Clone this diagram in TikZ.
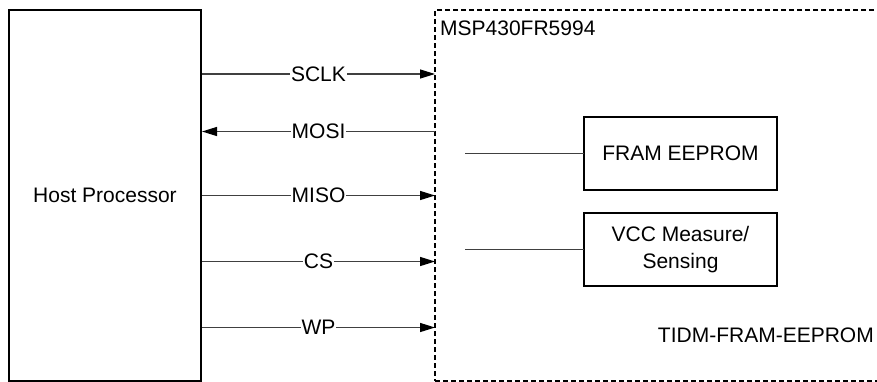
\documentclass[tikz,border=0pt]{standalone}
\usepackage{fontspec}
\setmainfont{Liberation Sans}
\usetikzlibrary{arrows.meta}
\begin{document}
\begin{tikzpicture}[x=1pt,y=-1pt,
  every node/.style={font=\fontsize{21}{27}\selectfont},
  box/.style={draw=black,line width=2.2pt,inner sep=0pt,outer sep=0pt},
  msp/.style={draw=black,line width=2.3pt,dash pattern=on 5pt off 3pt,inner sep=0pt,outer sep=0pt},
  wire/.style={draw=black!75,line width=1.3pt},
  arr/.style={-{Triangle[length=15pt,width=9pt,color=black]}},
  sig/.style={fill=white,inner sep=1pt,text=black}]
\useasboundingbox (0,0) rectangle (877,381);
\clip (0,0) rectangle (877,381);
% main blocks
\node[box,minimum width=192pt,minimum height=371pt,anchor=north west] (host) at (9,10) {Host Processor};
\node[msp,minimum width=470pt,minimum height=371pt,anchor=north west] (mcu) at (435,10) {};
\node[anchor=base west,inner sep=0pt] (mcul) at (440,35) {MSP430FR5994};
\node[anchor=base east,inner sep=0pt] (tidm) at (874,342) {TIDM-FRAM-EEPROM};
\node[box,minimum width=193pt,minimum height=73pt,anchor=north west] (fram) at (584,117) {FRAM EEPROM};
\node[box,minimum width=193pt,minimum height=73pt,anchor=north west,align=center] (vcc) at (584,213) {VCC Measure/\\Sensing};
% coordinates
\coordinate (h1) at (202,74);    \coordinate (m1) at (435,74);
\coordinate (h2) at (202,131.5); \coordinate (m2) at (435,131.5);
\coordinate (h3) at (202,195.5); \coordinate (m3) at (435,195.5);
\coordinate (h4) at (202,261.5); \coordinate (m4) at (435,261.5);
\coordinate (h5) at (202,327.5); \coordinate (m5) at (435,327.5);
\coordinate (f0) at (465,153.5);
% signals
\draw[wire,arr] (h1) -- node[sig]{SCLK} (m1);
\draw[wire,arr] (m2) -- node[sig]{MOSI} (h2);
\draw[wire,arr] (h3) -- node[sig]{MISO} (m3);
\draw[wire,arr] (h4) -- node[sig]{CS} (m4);
\draw[wire,arr] (h5) -- node[sig]{WP} (m5);
\draw[wire] (fram.west -| f0) -- (fram.west);
\draw[wire] (vcc.west -| f0) -- (vcc.west);
\end{tikzpicture}
\end{document}
